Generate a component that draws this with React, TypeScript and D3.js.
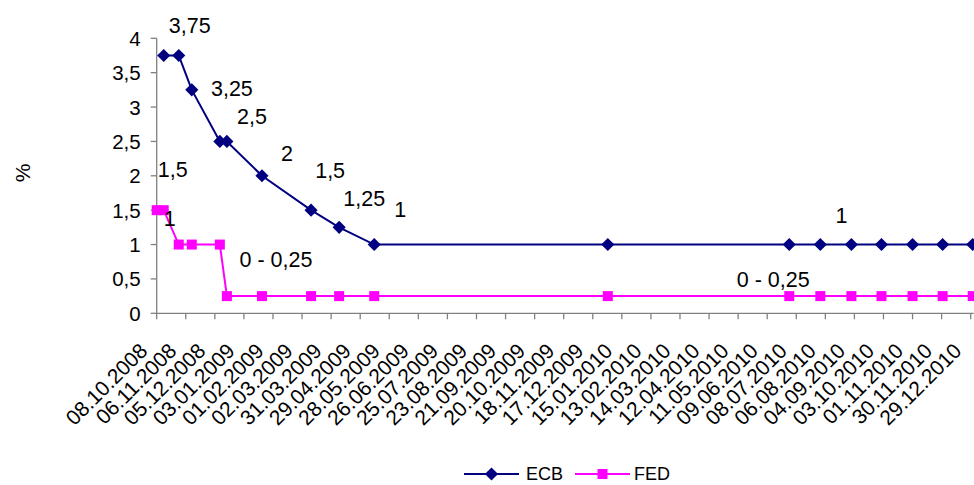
import React from "react";
import * as d3 from "d3";

// Key policy rates, % (ECB refinancing rate, FED funds target)
const tickLabels = [
  "08.10.2008", "06.11.2008", "05.12.2008", "03.01.2009", "01.02.2009",
  "02.03.2009", "31.03.2009", "29.04.2009", "28.05.2009", "26.06.2009",
  "25.07.2009", "23.08.2009", "21.09.2009", "20.10.2009", "18.11.2009",
  "17.12.2009", "15.01.2010", "13.02.2010", "14.03.2010", "12.04.2010",
  "11.05.2010", "09.06.2010", "08.07.2010", "06.08.2010", "04.09.2010",
  "03.10.2010", "01.11.2010", "30.11.2010", "29.12.2010",
];

const ecbDates = [
  "15.10.2008", "30.10.2008", "12.11.2008", "10.12.2008", "17.12.2008",
  "21.01.2009", "11.03.2009", "08.04.2009", "13.05.2009", "01.01.2010",
  "01.07.2010", "01.08.2010", "01.09.2010", "01.10.2010", "01.11.2010",
  "01.12.2010", "31.12.2010",
];
const ecbRates = [3.75, 3.75, 3.25, 2.5, 2.5, 2, 1.5, 1.25, 1, 1, 1, 1, 1, 1, 1, 1, 1];

const fedDates = [
  "08.10.2008", "15.10.2008", "30.10.2008", "12.11.2008", "10.12.2008",
  "17.12.2008", "21.01.2009", "11.03.2009", "08.04.2009", "13.05.2009",
  "01.01.2010", "01.07.2010", "01.08.2010", "01.09.2010", "01.10.2010",
  "01.11.2010", "01.12.2010", "31.12.2010",
];
const fedRates = [1.5, 1.5, 1, 1, 1, 0.25, 0.25, 0.25, 0.25, 0.25, 0.25, 0.25, 0.25, 0.25, 0.25, 0.25, 0.25, 0.25];

// Free-standing rate notes, anchored at (date, level) in chart units
const noteTexts = ["3,75", "3,25", "2,5", "2", "1,5", "1,25", "1", "1,5", "1", "0 - 0,25", "1", "0 - 0,25"];
const noteDates = [
  "10.11.2008", "22.12.2008", "11.01.2009", "15.02.2009", "30.03.2009", "03.05.2009",
  "08.06.2009", "24.10.2008", "21.10.2008", "04.02.2009", "22.08.2010", "15.06.2010",
];
const noteLevels = [4.18, 3.26, 2.855, 2.32, 2.07, 1.66, 1.5, 2.08, 1.37, 0.775, 1.415, 0.484];

const yTicks = [0, 0.5, 1, 1.5, 2, 2.5, 3, 3.5, 4];

const parse = d3.utcParse("%d.%m.%Y");
const fmtY = (v: number) => String(v).replace(".", ",");

const W = 974;
const H = 485;
const FONT = "'Liberation Sans', Arial, sans-serif";
const ECB_COLOR = "#000080";
const FED_COLOR = "#FF00FF";
const AXIS_COLOR = "#808080";

export default function App() {
  const x = d3
    .scaleUtc()
    .domain([parse("08.10.2008")!, parse("01.01.2011")!])
    .range([156.7, 973.7]);
  const y = d3.scaleLinear().domain([0, 4]).range([313.3, 38.3]);

  const ecb = ecbDates.map((d, i) => ({ d: parse(d)!, v: ecbRates[i] }));
  const fed = fedDates.map((d, i) => ({ d: parse(d)!, v: fedRates[i] }));

  const line = d3
    .line<{ d: Date; v: number }>()
    .x((p) => x(p.d))
    .y((p) => y(p.v));

  const diamond = d3.symbol().type(d3.symbolDiamond2).size(110)();
  const square = d3.symbol().type(d3.symbolSquare).size(100)();

  const x0 = x.range()[0];
  const y0 = y(0);
  const legendY = 474;

  return (
    <svg
      width={W}
      height={H}
      style={{ position: "absolute", left: 0, top: 0, background: "#fff" }}
      fontFamily={FONT}
    >
      {/* y axis */}
      <line x1={x0} x2={x0} y1={y(4)} y2={y0} stroke={AXIS_COLOR} strokeWidth={1.3} />
      {yTicks.map((t) => (
        <g key={t}>
          <line x1={x0 - 6} x2={x0} y1={y(t)} y2={y(t)} stroke={AXIS_COLOR} strokeWidth={1.3} />
          <text x={x0 - 16} y={y(t)} textAnchor="end" dominantBaseline="central" fontSize={20.5} fill="#000">
            {fmtY(t)}
          </text>
        </g>
      ))}
      <text
        transform={`translate(22.5,173) rotate(-90)`}
        textAnchor="middle"
        dominantBaseline="central"
        fontSize={21}
        fill="#000"
      >
        %
      </text>

      {/* x axis */}
      <line x1={x0} x2={x.range()[1]} y1={y0} y2={y0} stroke={AXIS_COLOR} strokeWidth={1.3} />
      {tickLabels.map((t) => {
        const tx = x(parse(t)!);
        return (
          <g key={t}>
            <line x1={tx} x2={tx} y1={y0} y2={y0 + 6} stroke={AXIS_COLOR} strokeWidth={1.3} />
            <text
              transform={`translate(${tx - 8},${y0 + 39}) rotate(-45)`}
              textAnchor="end"
              fontSize={21}
              fill="#000"
            >
              {t}
            </text>
          </g>
        );
      })}

      {/* series */}
      <path d={line(fed) ?? ""} fill="none" stroke={FED_COLOR} strokeWidth={2} />
      {fed.map((p, i) => (
        <path key={i} d={square ?? ""} transform={`translate(${x(p.d)},${y(p.v)})`} fill={FED_COLOR} />
      ))}
      <path d={line(ecb) ?? ""} fill="none" stroke={ECB_COLOR} strokeWidth={2} />
      {ecb.map((p, i) => (
        <path key={i} d={diamond ?? ""} transform={`translate(${x(p.d)},${y(p.v)})`} fill={ECB_COLOR} />
      ))}

      {/* rate notes */}
      {noteTexts.map((t, i) => (
        <text
          key={i}
          x={x(parse(noteDates[i])!)}
          y={y(noteLevels[i])}
          textAnchor="middle"
          dominantBaseline="central"
          fontSize={21.5}
          fill="#000"
        >
          {t}
        </text>
      ))}

      {/* legend */}
      <g>
        <line x1={464} x2={519} y1={legendY} y2={legendY} stroke={ECB_COLOR} strokeWidth={2} />
        <path d={diamond ?? ""} transform={`translate(491.5,${legendY})`} fill={ECB_COLOR} />
        <text x={526} y={legendY} dominantBaseline="central" fontSize={18} fill="#000">
          ECB
        </text>
        <line x1={575} x2={630} y1={legendY} y2={legendY} stroke={FED_COLOR} strokeWidth={2} />
        <path d={square ?? ""} transform={`translate(602.5,${legendY})`} fill={FED_COLOR} />
        <text x={634} y={legendY} dominantBaseline="central" fontSize={18} fill="#000">
          FED
        </text>
      </g>
    </svg>
  );
}
